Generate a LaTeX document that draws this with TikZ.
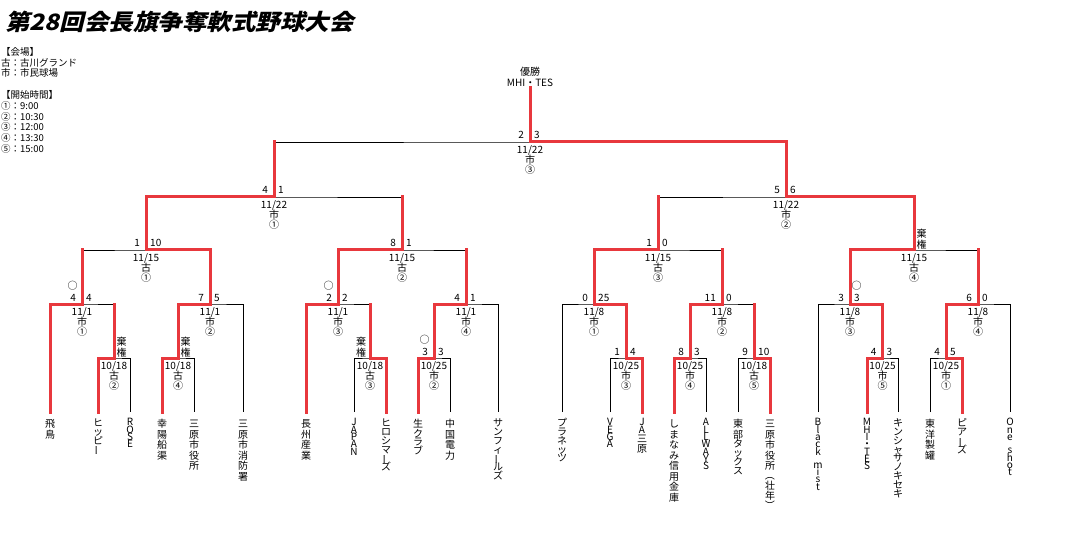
\documentclass[tikz,border=0pt]{standalone}
\usepackage{graphicx}
\usepackage{fontspec}
\newfontfamily\jp{Noto Sans CJK JP}
\newfontfamily\ttl[FakeSlant=0.22,BoldFeatures={FakeSlant=0.22}]{Noto Sans CJK JP}
\definecolor{wred}{RGB}{232,56,61}
\newcommand\Ja[1]{\hbox to 14pt{\hss\raisebox{0pt}[8.6pt][1.9pt]{#1}\hss}}
\newcommand\Ka[1]{\hbox to 14pt{\hss\raisebox{0pt}[7.4pt][1.4pt]{#1}\hss}}
\newcommand\La[1]{\hbox to 14pt{\hss\raisebox{0pt}[6.6pt][0.7pt]{#1}\hss}}
\newcommand\Cho{\rotatebox[origin=c]{90}{ー}}
\newcommand\Lp{\rotatebox[origin=c]{-90}{（}}
\newcommand\Rp{\rotatebox[origin=c]{-90}{）}}
\newcommand\VS[1]{\vbox{\offinterlineskip #1}}
\newcommand\bracket[3]{\draw[bk] (#2) |- (#1) -| (#3);}
\newcommand\win[2]{\draw[rd] (#2) |- (#1);}
\newcommand\upr[2]{\draw[rd] (#2) -- (#2 |- #1);}
\newcommand\info[6]{%
 \node[st,anchor=base east] (#1l) at ([xshift=-6pt,yshift=3pt]#1) {#2};
 \node[st,anchor=base west] (#1r) at ([xshift=4pt,yshift=3pt]#1) {#3};
 \node[st,anchor=base] (#1d) at ([yshift=-11.5pt]#1) {#4};
 \node[st,anchor=base] (#1v) at ([yshift=-21.5pt]#1) {#5};
 \node[st,anchor=base] (#1n) at ([yshift=-31.5pt]#1) {#6};}
\newcommand\lotl[1]{\node[st] (#1o) at ([xshift=-9.5pt,yshift=18pt]#1) {○};}
\newcommand\lotr[1]{\node[st] (#1o) at ([xshift=6.5pt,yshift=18pt]#1) {○};}
\newcommand\forfl[1]{\node[kk,anchor=south] (#1k) at ([xshift=-9pt,yshift=1pt]#1) {棄\\権};}
\newcommand\forfr[1]{\node[kk,anchor=south] (#1k) at ([xshift=7.5pt,yshift=1pt]#1) {棄\\権};}
\begin{document}
\begin{tikzpicture}[x=1pt,y=-1pt,
 bk/.style={draw=black,line width=0.9pt},
 rd/.style={draw=wred,line width=3pt,line cap=rect},
 st/.style={inner sep=0pt,font=\jp\fontsize{10}{10}\selectfont},
 tn/.style={inner sep=0pt,anchor=north,font=\jp\fontsize{10}{10}\selectfont},
 kk/.style={inner sep=0pt,align=center,font=\jp\fontsize{10}{10.5}\selectfont}]
\useasboundingbox (0,0) rectangle (1086,545);
\fill[white] (0,0) rectangle (1086,545);

% title and legend
\node[anchor=base west,inner sep=0pt] (title) at (5,31)
 {\ttl\bfseries\fontsize{22.5}{22.5}\selectfont\scalebox{1.09}[1]{第28回会長旗争奪軟式野球大会}};
\node[anchor=north west,inner sep=0pt,align=left,font=\jp\fontsize{9.5}{10.8}\selectfont] (legend) at (1,47)
 {【会場】\\古：古川グランド\\市：市民球場\\[10.8pt]【開始時間】\\①：9:00\\②：10:30\\③：12:00\\④：13:30\\⑤：15:00};

% leaves
\coordinate (L1) at (50,412);
\coordinate (L2) at (98,412);
\coordinate (L3) at (130,412);
\coordinate (L4) at (162,412);
\coordinate (L5) at (194,412);
\coordinate (L6) at (243,412);
\coordinate (L7) at (306,412);
\coordinate (L8) at (354,412);
\coordinate (L9) at (386,412);
\coordinate (L10) at (418,412);
\coordinate (L11) at (450,412);
\coordinate (L12) at (498,412);
\coordinate (L13) at (562,412);
\coordinate (L14) at (610,412);
\coordinate (L15) at (642,412);
\coordinate (L16) at (674,412);
\coordinate (L17) at (706,412);
\coordinate (L18) at (738,412);
\coordinate (L19) at (770,412);
\coordinate (L20) at (818,412);
\coordinate (L21) at (867,412);
\coordinate (L22) at (898,412);
\coordinate (L23) at (930,412);
\coordinate (L24) at (962,412);
\coordinate (L25) at (1010,412);

% matches
\coordinate (m1) at (114,358);
\coordinate (m2) at (178,358);
\coordinate (m3) at (370,358);
\coordinate (m4) at (434,358);
\coordinate (m5) at (626,358);
\coordinate (m6) at (690,358);
\coordinate (m7) at (754,358);
\coordinate (m8) at (882.5,358);
\coordinate (m9) at (946,358);
\coordinate (n1) at (82,304);
\coordinate (n2) at (210,304);
\coordinate (n3) at (338,304);
\coordinate (n4) at (466,304);
\coordinate (n5) at (594,304);
\coordinate (n6) at (722,304);
\coordinate (n7) at (850,304);
\coordinate (n8) at (978,304);
\coordinate (q1) at (146,250);
\coordinate (q2) at (402,250);
\coordinate (q3) at (658,250);
\coordinate (q4) at (914,250);
\coordinate (s1) at (274,197);
\coordinate (s2) at (786,197);
\coordinate (F) at (530,142);
\coordinate (top) at (530,88);

% black brackets
\bracket{m1}{L2}{L3}
\bracket{m2}{L4}{L5}
\bracket{m3}{L8}{L9}
\bracket{m4}{L10}{L11}
\bracket{m5}{L14}{L15}
\bracket{m6}{L16}{L17}
\bracket{m7}{L18}{L19}
\bracket{m8}{L21}{L22}
\bracket{m9}{L23}{L24}
\bracket{n1}{L1}{m1}
\bracket{n2}{m2}{L6}
\bracket{n3}{L7}{m3}
\bracket{n4}{m4}{L12}
\bracket{n5}{L13}{m5}
\bracket{n6}{m6}{m7}
\bracket{n7}{L20}{m8}
\bracket{n8}{m9}{L25}
\bracket{q1}{n1}{n2}
\bracket{q2}{n3}{n4}
\bracket{q3}{n5}{n6}
\bracket{q4}{n7}{n8}
\bracket{s1}{q1}{q2}
\bracket{s2}{q3}{q4}
\bracket{F}{s1}{s2}

% red winner paths
\win{m1}{L2}
\win{m2}{L4}
\win{m3}{L9}
\win{m4}{L10}
\win{m5}{L15}
\win{m6}{L16}
\win{m7}{L19}
\win{m8}{L21}
\win{m9}{L24}
\win{n1}{L1} \upr{n1}{m1}
\win{n2}{m2}
\win{n3}{L7} \upr{n3}{m3}
\win{n4}{m4}
\win{n5}{m5}
\win{n6}{m6} \upr{n6}{m7}
\win{n7}{m8}
\win{n8}{m9}
\win{q1}{n2} \upr{q1}{n1}
\win{q2}{n3} \upr{q2}{n4}
\win{q3}{n5} \upr{q3}{n6}
\win{q4}{n7} \upr{q4}{n8}
\win{s1}{q1} \upr{s1}{q2}
\win{s2}{q4} \upr{s2}{q3}
\win{F}{s2} \upr{F}{s1}
\draw[rd] (F) -- (top);

% match labels
\info{m1}{}{}{10/18}{古}{②} \forfr{m1}
\info{m2}{}{}{10/18}{古}{④} \forfr{m2}
\info{m3}{}{}{10/18}{古}{③} \forfl{m3}
\info{m4}{3}{3}{10/25}{市}{②} \lotl{m4}
\info{m5}{1}{4}{10/25}{市}{③}
\info{m6}{8}{3}{10/25}{市}{④}
\info{m7}{9}{10}{10/18}{古}{⑤}
\info{m8}{4}{3}{10/25}{市}{⑤}
\info{m9}{4}{5}{10/25}{市}{①}
\info{n1}{4}{4}{11/1}{市}{①} \lotl{n1}
\info{n2}{7}{5}{11/1}{市}{②}
\info{n3}{2}{2}{11/1}{市}{③} \lotl{n3}
\info{n4}{4}{1}{11/1}{市}{④}
\info{n5}{0}{25}{11/8}{市}{①}
\info{n6}{11}{0}{11/8}{市}{②}
\info{n7}{3}{3}{11/8}{市}{③} \lotr{n7}
\info{n8}{6}{0}{11/8}{市}{④}
\info{q1}{1}{10}{11/15}{古}{①}
\info{q2}{8}{1}{11/15}{古}{②}
\info{q3}{1}{0}{11/15}{古}{③}
\info{q4}{}{}{11/15}{古}{④} \forfr{q4}
\info{s1}{4}{1}{11/22}{市}{①}
\info{s2}{5}{6}{11/22}{市}{②}
\info{F}{2}{3}{11/22}{市}{③}

\node[st] (champ) at (530,72) {優勝};
\node[st] (champname) at (530,82.5) {MHI・TES};

% team names
\node[tn] (t1) at (50,419) {\VS{\Ja{飛}\Ja{鳥}}};
\node[tn] (t2) at (98,419) {\VS{\Ka{ヒ}\Ka{ッ}\Ka{ピ}\Ka{\Cho}}};
\node[tn] (t3) at (130,419) {\VS{\La{R}\La{O}\La{S}\La{E}}};
\node[tn] (t4) at (162,419) {\VS{\Ja{幸}\Ja{陽}\Ja{船}\Ja{渠}}};
\node[tn] (t5) at (194,419) {\VS{\Ja{三}\Ja{原}\Ja{市}\Ja{役}\Ja{所}}};
\node[tn] (t6) at (243,419) {\VS{\Ja{三}\Ja{原}\Ja{市}\Ja{消}\Ja{防}\Ja{署}}};
\node[tn] (t7) at (306,419) {\VS{\Ja{長}\Ja{州}\Ja{産}\Ja{業}}};
\node[tn] (t8) at (354,419) {\VS{\La{J}\La{A}\La{P}\La{A}\La{N}}};
\node[tn] (t9) at (386,419) {\VS{\Ka{ヒ}\Ka{ロ}\Ka{シ}\Ka{マ}\Ka{\Cho}\Ka{ズ}}};
\node[tn] (t10) at (418,419) {\VS{\Ja{生}\Ka{ク}\Ka{ラ}\Ka{ブ}}};
\node[tn] (t11) at (450,419) {\VS{\Ja{中}\Ja{国}\Ja{電}\Ja{力}}};
\node[tn] (t12) at (498,419) {\VS{\Ka{サ}\Ka{ン}\Ka{フ}\Ka{ィ}\Ka{\Cho}\Ka{ル}\Ka{ズ}}};
\node[tn] (t13) at (562,419) {\VS{\Ka{プ}\Ka{ラ}\Ka{ネ}\Ka{ッ}\Ka{ツ}}};
\node[tn] (t14) at (610,419) {\VS{\La{V}\La{E}\La{G}\La{A}}};
\node[tn] (t15) at (642,419) {\VS{\La{J}\La{A}\Ja{三}\Ja{原}}};
\node[tn] (t16) at (674,419) {\VS{\Ja{し}\Ja{ま}\Ja{な}\Ja{み}\Ja{信}\Ja{用}\Ja{金}\Ja{庫}}};
\node[tn] (t17) at (706,419) {\VS{\La{A}\La{L}\La{L}\La{W}\La{A}\La{Y}\La{S}}};
\node[tn] (t18) at (738,419) {\VS{\Ja{東}\Ja{部}\Ka{タ}\Ka{ッ}\Ka{ク}\Ka{ス}}};
\node[tn] (t19) at (770,419) {\VS{\Ja{三}\Ja{原}\Ja{市}\Ja{役}\Ja{所}\Ka{\Lp}\Ja{壮}\Ja{年}\Ka{\Rp}}};
\node[tn] (t20) at (818,419) {\VS{\La{B}\La{l}\La{a}\La{c}\La{k}\kern6pt\La{m}\La{i}\La{s}\La{t}}};
\node[tn] (t21) at (867,419) {\VS{\La{M}\La{H}\La{I}\La{・}\La{T}\La{E}\La{S}}};
\node[tn] (t22) at (898,419) {\VS{\Ka{キ}\Ka{ン}\Ka{シ}\Ka{ャ}\Ka{サ}\Ka{ノ}\Ka{キ}\Ka{セ}\Ka{キ}}};
\node[tn] (t23) at (930,419) {\VS{\Ja{東}\Ja{洋}\Ja{製}\Ja{罐}}};
\node[tn] (t24) at (962,419) {\VS{\Ka{ピ}\Ka{ア}\Ka{\Cho}\Ka{ズ}}};
\node[tn] (t25) at (1010,419) {\VS{\La{O}\La{n}\La{e}\kern6pt\La{s}\La{h}\La{o}\La{t}}};
\end{tikzpicture}
\end{document}
